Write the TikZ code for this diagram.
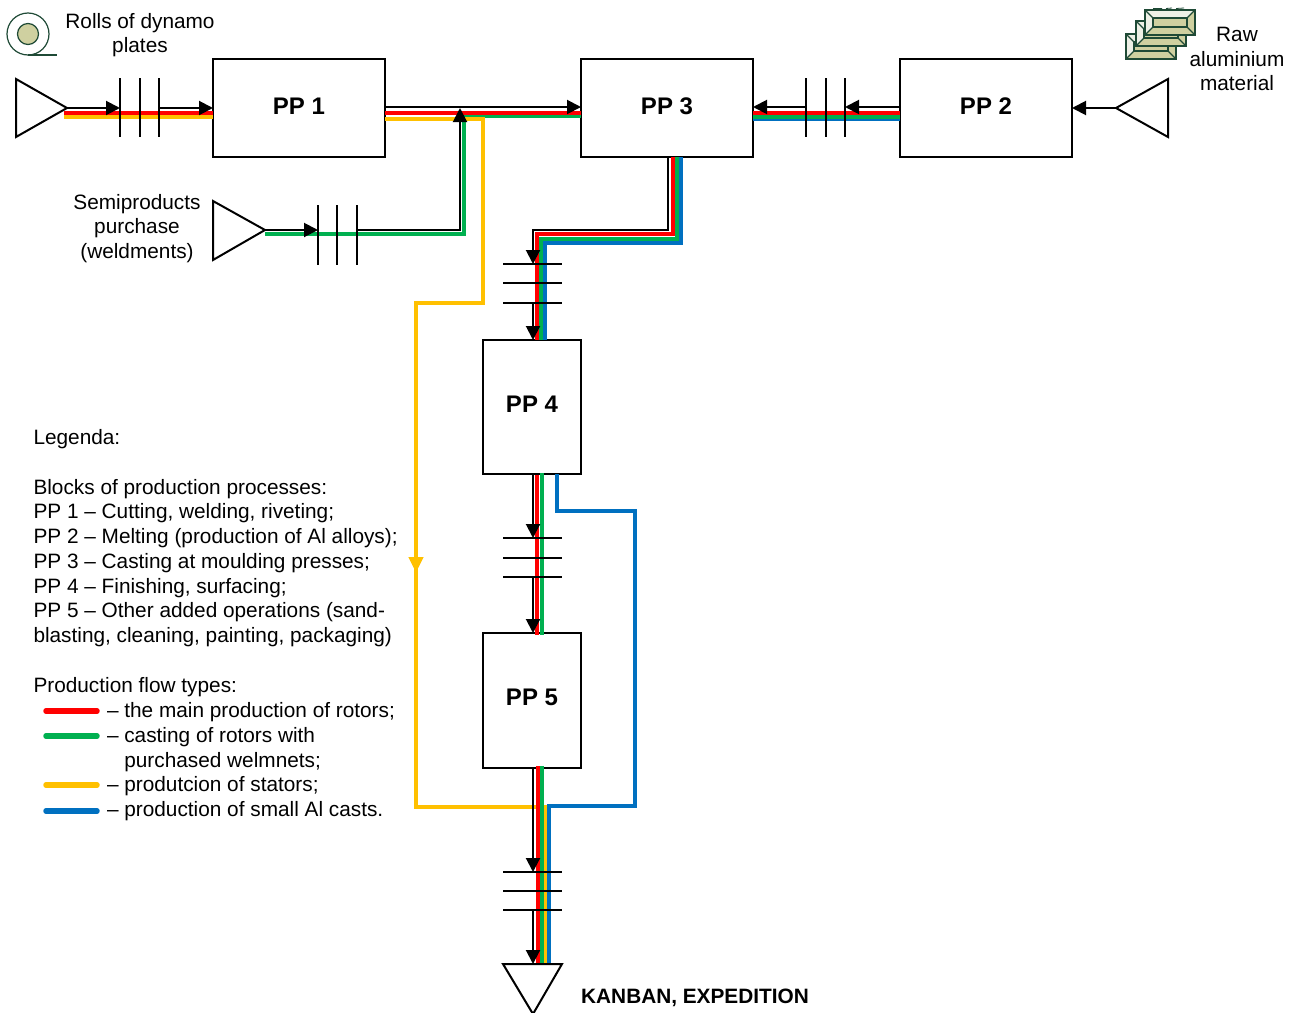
\documentclass[tikz,border=0pt]{standalone}
\usepackage{fontspec}
\setmainfont{Liberation Sans}
\usetikzlibrary{arrows.meta,calc}
\definecolor{fred}{HTML}{FF0000}
\definecolor{fgreen}{HTML}{00B050}
\definecolor{fyellow}{HTML}{FFC000}
\definecolor{fblue}{HTML}{0070C0}
\definecolor{icond}{HTML}{1F4A36}
\definecolor{iconl}{HTML}{CFD0A0}
\definecolor{iconw}{HTML}{EEF0E6}
\tikzset{
  x=1pt,y=-1pt,
  ppbox/.style={draw=black,line width=2pt,fill=white,outer sep=0pt,inner sep=0pt,font=\fontsize{24}{28}\selectfont\bfseries},
  txt/.style={inner sep=0pt,outer sep=0pt,align=center,font=\fontsize{20.8}{24.7}\selectfont},
  ltxt/.style={inner sep=0pt,outer sep=0pt,align=left,anchor=north west,font=\fontsize{20.8}{24.75}\selectfont},
  tri/.style={draw=black,line width=2pt,line join=miter,fill=white},
  blk/.style={draw=black,line width=2pt},
  flowarrow/.style={blk,-{Triangle[length=14pt,width=14pt]}},
  bar/.style={draw=black,line width=2.2pt},
  flowr/.style={draw=fred,line width=4pt},
  flowg/.style={draw=fgreen,line width=4pt},
  flowy/.style={draw=fyellow,line width=4pt},
  flowb/.style={draw=fblue,line width=4pt},
  swatch/.style={line width=5.5pt,line cap=round},
  plate/.pic={
    \fill[iconw] (0,0) rectangle (50,25);
    \fill[iconl] (0,25) -- (8,17) -- (42,17) -- (42,8) -- (50,0) -- (50,25) -- cycle;
    \fill[iconl] (8,8) rectangle (42,17);
    \draw[icond,line width=1.2pt] (0,0) rectangle (50,25);
    \draw[icond,line width=1.2pt] (8,8) rectangle (42,17);
    \draw[icond,line width=1.2pt] (0,0) -- (8,8) (50,0) -- (42,8) (0,25) -- (8,17) (50,25) -- (42,17);
  }
}
\begin{document}
\begin{tikzpicture}
\useasboundingbox (0,0) rectangle (1295,1012);

% boxes
\node[ppbox,minimum width=172pt,minimum height=98pt] (PP1) at (299,108) {\raisebox{3pt}{PP 1}};
\node[ppbox,minimum width=172pt,minimum height=98pt] (PP3) at (667,108) {\raisebox{3pt}{PP 3}};
\node[ppbox,minimum width=172pt,minimum height=98pt] (PP2) at (986,108) {\raisebox{3pt}{PP 2}};
\node[ppbox,minimum width=98pt,minimum height=134pt] (PP4) at (532,407) {\raisebox{6pt}{PP 4}};
\node[ppbox,minimum width=98pt,minimum height=135pt] (PP5) at (532,700.5) {\raisebox{6pt}{PP 5}};

% coordinates
\coordinate (t1) at (67,108);
\coordinate (t2) at (265,230);
\coordinate (t3) at (1116,108);
\coordinate (t4) at (533,964);

% coloured flows: main row
\draw[flowy] (64,117) -- (PP1.west |- 0,117);
\draw[flowr] (64,113) -- (PP1.west |- 0,113);
\draw[flowg] (t2 |- 0,234) -- (464,234) -- (464,116) -- (PP3.west |- 0,116);
\draw[flowy,-{Triangle[length=16pt,width=14pt]}] (PP1.east |- 0,119) -- (483,119) -- (483,303) -- (416,303) -- (416,573);
\draw[flowy] (416,565) -- (416,806.5) -- (545,806.5) -- (545,964);
\draw[flowr] (PP1.east |- 0,113) -- (PP3.west |- 0,113);

% PP2 to PP3
\draw[flowb] (PP2.west |- 0,119) -- (PP3.east |- 0,119);
\draw[flowg] (PP2.west |- 0,116.5) -- (PP3.east |- 0,116.5);
\draw[flowr] (PP2.west |- 0,113) -- (PP3.east |- 0,113);

% PP3 to PP4
\draw[flowb] (681,157) -- (681,243) -- (545,243) -- (545,340);
\draw[flowg] (677,157) -- (677,238.5) -- (541,238.5) -- (541,340);
\draw[flowr] (673,157) -- (673,234) -- (537,234) -- (537,340);

% PP4 to PP5 and out
\draw[flowr] (537,475) -- (537,635);
\draw[flowg] (542,473) -- (542,635);
\draw[flowb] (557,474) -- (557,511) -- (634.5,511) -- (634.5,806) -- (549,806) -- (549,964);
\draw[flowg] (541.5,766) -- (541.5,964);
\draw[flowr] (537.5,766) -- (537.5,964);

% triangles (sources and sink)
\draw[tri] (16,79) -- (16,137) -- (t1) -- cycle;
\draw[tri] (213,201) -- (213,260) -- (t2) -- cycle;
\draw[tri] (1168,79) -- (1168,137) -- (t3) -- cycle;
\draw[tri] (503,964) -- (562,964) -- (533,1014) -- cycle;

% stock bars
\foreach \x in {120,140,159} \draw[bar] (\x,78) -- (\x,137);
\foreach \x in {318,337,357} \draw[bar] (\x,205) -- (\x,265);
\foreach \x in {806,826,845} \draw[bar] (\x,78) -- (\x,137);
\foreach \y in {264,283,303} \draw[bar] (503,\y) -- (562,\y);
\foreach \y in {538,558,577} \draw[bar] (503,\y) -- (562,\y);
\foreach \y in {872,891,910} \draw[bar] (503,\y) -- (562,\y);

% black connectors
\draw[flowarrow] (t1) -- (120,108);
\draw[flowarrow] (159,108) -- (PP1.west);
\draw[flowarrow] (PP1.east |- 0,107) -- (PP3.west |- 0,107);
\draw[flowarrow] (t2) -- (318,230);
\draw[flowarrow] (357,230) -- (460,230) -- (460,108);
\draw[flowarrow] (t3) -- (PP2.east);
\draw[flowarrow] (PP2.west |- 0,107) -- (845,107);
\draw[flowarrow] (806,107) -- (PP3.east |- 0,107);
\draw[flowarrow] (668,157) -- (668,230) -- (533,230) -- (533,264);
\draw[flowarrow] (533,303) -- (533,340);
\draw[flowarrow] (533,474) -- (533,538);
\draw[flowarrow] (533,577) -- (533,633);
\draw[flowarrow] (533,768) -- (533,872);
\draw[flowarrow] (533,910) -- (t4);

% roll icon
\draw[icond,line width=1.2pt] (28,34) circle[radius=21];
\draw[icond,line width=1.2pt,fill=iconl] (28,34) circle[radius=10.5];
\draw[icond,line width=1.2pt] (28,55) -- (57,55);

% plates icon
\draw[icond,line width=.8pt] (1153,8.5) -- (1162,8.5) (1166,8.5) -- (1172,8) (1176,8.5) -- (1184,8);
\pic at (1126,34) {plate};
\pic at (1136,21) {plate};
\pic at (1145,10) {plate};

% labels
\node[txt] (lroll) at (140,35) {Rolls of dynamo\\plates};
\node[txt] (lraw) at (1237,59) {Raw\\aluminium\\material};
\node[txt] (lsemi) at (137,228.5) {Semiproducts\\purchase\\(weldments)};
\node[inner sep=0pt,anchor=west,font=\fontsize{20.8}{24.7}\selectfont\bfseries] (lkan) at (581,998) {KANBAN, EXPEDITION};

% legend
\node[ltxt] (leg1) at (33.5,429.5) {Legenda:};
\node[ltxt] (leg2) at (33.5,479) {Blocks of production processes:\\
PP 1 -- Cutting, welding, riveting;\\
PP 2 -- Melting (production of Al alloys);\\
PP 3 -- Casting at moulding presses;\\
PP 4 -- Finishing, surfacing;\\
PP 5 -- Other added operations (sand-\\
blasting, cleaning, painting, packaging)};
\node[ltxt] (leg3) at (33.5,677.5) {Production flow types:};
\node[ltxt] (leg4) at (107,702.5) {-- the main production of rotors;\\
-- casting of rotors with\\
\phantom{-- }purchased welmnets;\\
-- produtcion of stators;\\
-- production of small Al casts.};
\draw[swatch,fred] (46,711) -- (97,711);
\draw[swatch,fgreen] (46,736) -- (97,736);
\draw[swatch,fyellow] (46,785) -- (97,785);
\draw[swatch,fblue] (46,811) -- (97,811);
\end{tikzpicture}
\end{document}
